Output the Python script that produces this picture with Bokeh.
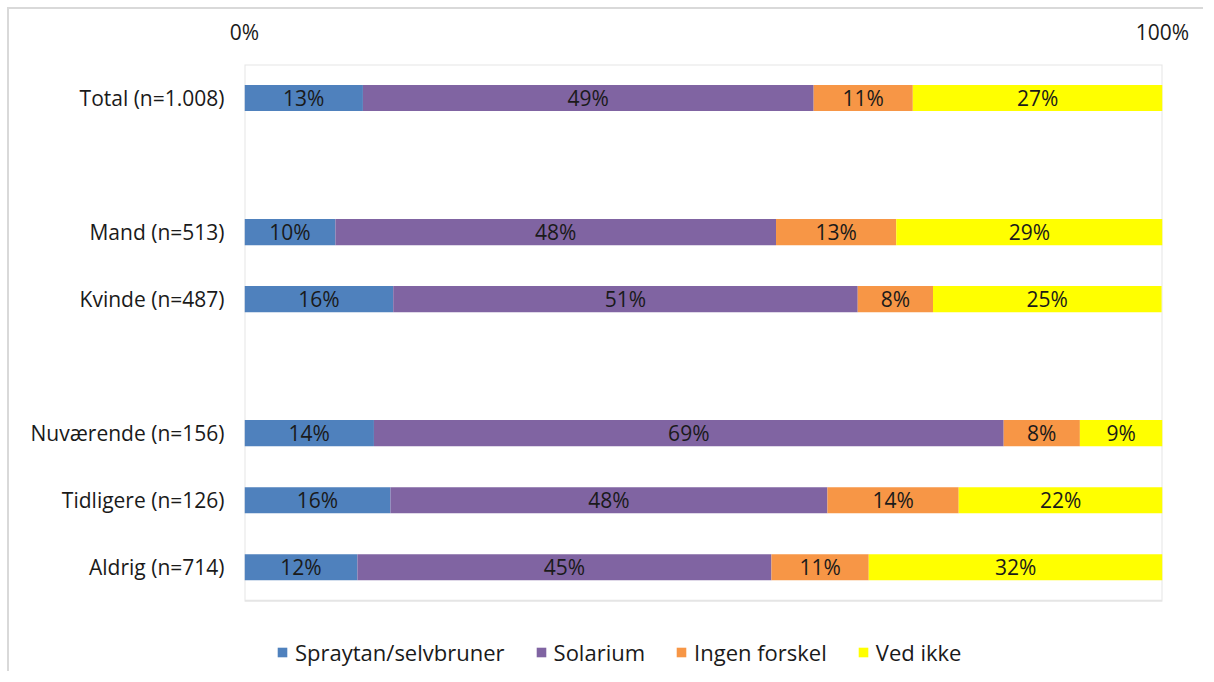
from bokeh.plotting import figure
from bokeh.models import ColumnDataSource, Range1d, FixedTicker, Legend, LegendItem, BoxAnnotation
from bokeh.core.properties import value
from bokeh.embed import file_html
from bokeh.resources import INLINE

# ---- data ----
categories = ["Total (n=1.008)", "Mand (n=513)", "Kvinde (n=487)",
              "Nuværende (n=156)", "Tidligere (n=126)", "Aldrig (n=714)"]
slots = [0.5, 2.5, 3.5, 5.5, 6.5, 7.5]   # row positions (blank rows between groups)
n_slots = 8
series = ["Spraytan/selvbruner", "Solarium", "Ingen forskel", "Ved ikke"]
spraytan = [12.9, 9.9, 16.2, 14.1, 15.9, 12.3]
solarium = [49.1, 48.0, 50.6, 68.6, 47.6, 45.1]
ingen = [10.8, 13.1, 8.2, 8.3, 14.3, 10.6]
vedikke = [27.2, 29.0, 24.9, 9.0, 22.2, 32.0]
labels_spraytan = ["13%", "10%", "16%", "14%", "16%", "12%"]
labels_solarium = ["49%", "48%", "51%", "69%", "48%", "45%"]
labels_ingen = ["11%", "13%", "8%", "8%", "14%", "11%"]
labels_vedikke = ["27%", "29%", "25%", "9%", "22%", "32%"]
colors = ["#4F81BD", "#8064A2", "#F79646", "#FFFF00"]

FONT = "Open Sans"
FS = "21px"
TXT = "#1a1a1a"

values = [spraytan, solarium, ingen, vedikke]
labels = [labels_spraytan, labels_solarium, labels_ingen, labels_vedikke]

W, H = 1196, 664
# frame extends below the plot box to hold the legend; 9.085 units = frame height / row height
p = figure(width=W, height=H, output_backend="svg", toolbar_location=None,
           x_range=Range1d(0, 100), y_range=Range1d(9.085, 0),
           x_axis_location="above",
           min_border_left=235, min_border_right=43, min_border_top=55, min_border_bottom=0)
p.styles = {"border-left": "2px solid #d9d9d9", "border-top": "2px solid #d9d9d9",
            "margin-left": "7px", "margin-top": "7px"}
p.outline_line_color = None
p.xgrid.visible = False
p.ygrid.visible = False
p.background_fill_color = "white"
p.border_fill_color = "white"

# plot-area box
box = BoxAnnotation(left=0, right=100, top=0, bottom=n_slots, fill_alpha=0,
                    line_color="#a8a8a8", line_width=2, level="underlay")
p.add_layout(box)

# axes
xa = p.xaxis[0]
xa.ticker = FixedTicker(ticks=[0, 100])
xa.major_label_overrides = {0: "0%", 100: "100%"}
xa.axis_line_color = None
xa.major_tick_line_color = None
xa.minor_tick_line_color = None
xa.major_label_standoff = 13
xa.major_label_text_font = FONT
xa.major_label_text_font_size = FS
xa.major_label_text_color = TXT

ya = p.yaxis[0]
ya.ticker = FixedTicker(ticks=slots)
ya.major_label_overrides = {s: c for s, c in zip(slots, categories)}
ya.axis_line_color = None
ya.major_tick_line_color = None
ya.minor_tick_line_color = None
ya.major_label_standoff = 14
ya.major_label_text_font = FONT
ya.major_label_text_font_size = FS
ya.major_label_text_color = TXT

# stacked bars
items = []
left = [0.0] * len(categories)
for name, vals, labs, col in zip(series, values, labels, colors):
    right = [l + v for l, v in zip(left, vals)]
    mid = [(l + r) / 2 for l, r in zip(left, right)]
    src = ColumnDataSource(dict(y=slots, left=left, right=right, mid=mid, lab=labs))
    r = p.hbar(y="y", left="left", right="right", height=0.39, source=src,
               fill_color=col, line_color=None)
    p.text(x="mid", y="y", text="lab", source=src, text_align="center",
           text_baseline="middle", text_font=value(FONT), text_font_size=FS,
           text_color=TXT)
    items.append(LegendItem(label=name, renderers=[r]))
    left = right

legend = Legend(items=items, orientation="horizontal", location=(32, 6),
                glyph_width=12, glyph_height=12, spacing=30, padding=0, margin=0,
                label_text_font=FONT, label_text_font_size="22px",
                label_text_color=TXT, border_line_color=None,
                background_fill_alpha=0, label_standoff=7)
p.add_layout(legend, "center")

open("out.html", "w").write(file_html(p, INLINE))
